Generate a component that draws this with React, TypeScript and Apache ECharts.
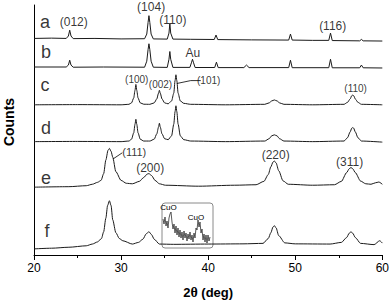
import React, { useEffect, useRef } from "react";
import * as echarts from "echarts";

// 2θ (deg) vs stacked counts (arbitrary offset units)
const traceA: number[][] = [[20,223.5],[22,223.8],[23.7,223.5],[23.95,226],[24.1,232],[24.25,226],[24.5,223.3],[27,223.5],[30,223],[32.7,223.2],[32.95,228],[33.1,240],[33.2,247],[33.3,240],[33.45,228],[33.7,223],[35.3,222.8],[35.5,229],[35.6,239],[35.7,229],[35.95,222.8],[38,222.6],[40.7,222.4],[40.9,227],[41.1,222.3],[45,222],[49.25,221.8],[49.45,228],[49.65,221.8],[52,221.5],[53.85,221.5],[54.05,229],[54.25,221.3],[57.4,221],[57.6,222.5],[57.8,221],[60,220.8]];
const traceB: number[][] = [[20,194],[23.7,194],[23.95,196],[24.1,201],[24.25,196],[24.5,193.8],[28,194],[32.7,193.8],[32.95,200],[33.1,212],[33.2,218],[33.3,212],[33.45,200],[33.7,193.8],[35.3,193.6],[35.5,202],[35.6,210],[35.7,202],[35.95,193.6],[37.9,193.6],[38.1,199],[38.2,202],[38.3,199],[38.5,193.5],[40.75,193.5],[40.95,199],[41.15,193.4],[44.1,193.4],[44.4,196],[44.7,193.4],[49.25,193.4],[49.45,201],[49.65,193.3],[53.85,193.3],[54.05,202],[54.25,193.2],[57.4,193.2],[57.6,196],[57.8,193.2],[60,193]];
const traceC: number[][] = [[20,155],[25,155.2],[30,155],[30.9,155.5],[31.2,157],[31.45,162],[31.6,170],[31.7,176],[31.8,170],[31.95,162],[32.2,157],[32.6,155.6],[33.3,155.5],[33.8,157],[34.1,161],[34.3,167],[34.4,170],[34.5,167],[34.7,161],[35.0,157],[35.4,156],[35.8,159],[36.05,167],[36.2,180],[36.3,186],[36.4,180],[36.55,167],[36.8,159],[37.2,156.5],[38,155.5],[42,155],[46.5,155.5],[47.0,157],[47.3,159],[47.6,160],[47.9,159],[48.2,157],[48.7,155.5],[52,155],[55.6,155.5],[56.0,157.5],[56.3,161],[56.5,164.5],[56.6,165],[56.7,164.5],[56.9,161],[57.2,157.5],[57.6,155.5],[60,155]];
const traceD: number[][] = [[20,117],[25,117.2],[30,117],[30.9,117.6],[31.2,119.5],[31.45,126],[31.6,135],[31.7,140],[31.8,135],[31.95,126],[32.2,119.5],[32.6,117.6],[33.3,117.6],[33.8,119.5],[34.1,125],[34.3,132],[34.4,136],[34.5,132],[34.7,125],[35.0,120],[35.4,119],[35.8,123],[36.05,135],[36.2,148],[36.3,154],[36.4,148],[36.55,135],[36.8,123],[37.2,119],[38,117.6],[42,117],[46.5,117.6],[47.0,120],[47.3,123],[47.6,124],[47.9,123],[48.2,120],[48.7,117.6],[52,117],[55.6,117.6],[56.0,121],[56.3,127],[56.5,131],[56.6,131.5],[56.7,131],[56.9,127],[57.2,121],[57.6,117.6],[60,116.5]];
const traceE: number[][] = [[20,70],[24,70.5],[26,71.5],[26.7,73],[27.3,75],[27.7,77],[28.0,84],[28.25,98],[28.5,108],[28.66,110],[28.85,107],[29.04,101],[29.4,86],[30.0,77],[30.6,74],[31.3,73.5],[32.1,76],[32.6,80],[33.0,83.5],[33.2,84],[33.5,82],[33.9,77],[34.4,73.5],[35.1,72],[38.9,71],[43,72],[45.5,72.5],[46.4,76],[46.9,83],[47.2,91],[47.45,96],[47.6,97],[47.8,95],[48.1,87],[48.6,76.5],[49.2,73],[52,72],[54.5,72.5],[55.3,76],[55.9,85],[56.2,89],[56.4,90.3],[56.6,89],[56.9,85],[57.5,76.3],[58.1,73.5],[58.7,73],[59.2,74.5],[59.6,75.3],[60,73]];
const traceF: number[][] = [[20,6.3],[22,7],[24,8],[26,9.5],[26.7,11.3],[27.3,13.5],[27.75,17],[28.0,24],[28.25,38],[28.45,51],[28.66,56],[28.85,51],[29.04,36.3],[29.4,23],[29.8,17],[30.2,14.7],[31.3,11.3],[32.0,13],[32.5,16.3],[32.9,22],[33.2,24],[33.5,21],[33.8,16.3],[34.4,11.3],[36,11],[40,11.3],[44,11.5],[46.3,12],[46.9,17],[47.2,23],[47.45,29],[47.6,30.3],[47.8,28],[48.1,20],[48.8,12.5],[50,11.5],[54,11.3],[55.3,13],[55.9,18],[56.2,22.5],[56.4,24],[56.6,22.5],[56.9,18],[57.5,12],[59.05,10.7],[59.7,14.7],[60,12.3]];

// inset (CuO region), counts along the zoomed scan
const insetCounts: number[] = [26,21,28,19,24,17,27,31,33,23,16,21,12,19,10,17,8,15,7,13,5,14,7,12,4,11,6,13,5,10,3,12,7,17,15,25,18,23,12,16,5,11,3,10,2,10,4,8];

const xTicks = { min: 20, max: 60, interval: 10 };

const traceLetters: [string, number, number][] = [
  ["a", 21.25, 240], ["b", 21.37, 209], ["c", 21.25, 175], ["d", 21.37, 131], ["e", 21.37, 79], ["f", 21.48, 25],
];
const peakLabels: [string, number, number, number][] = [
  ["(012)", 24.56, 240, 12], ["(104)", 33.45, 256, 12], ["(110)", 35.95, 243, 12], ["(116)", 54.3, 236, 12], ["Au", 38.23, 208, 12],
  ["(100)", 31.8, 181, 10], ["(002)", 34.53, 175.5, 10], ["(101)", 40.06, 180, 10], ["(110)", 56.93, 172, 10],
  ["(111)", 31.51, 106, 11], ["(200)", 33.34, 90, 12], ["(220)", 47.75, 103.5, 12], ["(311)", 56.24, 95.5, 12],
];
const leader101: number[][] = [[36.41, 177], [38.0, 180], [39.15, 180]];
const leader111: number[][] = [[29.06, 99], [30.14, 105.5]];

const FONT = "Arial, 'Liberation Sans', sans-serif";

export default function App() {
  const ref = useRef<HTMLDivElement>(null);
  useEffect(() => {
    const chart = echarts.init(ref.current!, null, { renderer: "svg" });
    const lineStyle = { color: "#1a1a1a", width: 1 };
    const traces = [traceA, traceB, traceC, traceD, traceE, traceF].map((d, i) => ({
      type: "line",
      data: d,
      showSymbol: false,
      smooth: i < 2 ? false : 0.25,
      smoothMonotone: "x",
      lineStyle,
      silent: true,
      xAxisIndex: 0,
      yAxisIndex: 0,
    }));
    const labelData = [
      ...traceLetters.map(([t, x, y]) => ({ value: [x, y], name: t, label: { fontSize: 18 } })),
      ...peakLabels.map(([t, x, y, s]) => ({ value: [x, y], name: t, label: { fontSize: s } })),
    ];
    chart.setOption({
      animation: false,
      textStyle: { fontFamily: FONT },
      grid: [
        { left: 34, right: 7, top: 5, bottom: 41 },
        { left: 163, top: 205, width: 47, height: 40 },
      ],
      xAxis: [
        {
          type: "value",
          gridIndex: 0,
          min: xTicks.min,
          max: xTicks.max,
          interval: xTicks.interval,
          axisLine: { show: true, onZero: false, lineStyle: { color: "#000", width: 1 } },
          axisTick: { show: true, length: 5, lineStyle: { color: "#000" } },
          minorTick: { show: true, splitNumber: 2, length: 3, lineStyle: { color: "#000" } },
          splitLine: { show: false },
          axisLabel: { color: "#000", fontSize: 12, margin: 7, fontFamily: FONT },
          name: "{b|2}{t|θ}{b| (deg)}",
          nameLocation: "middle",
          nameGap: 30,
          nameTextStyle: {
            rich: {
              b: { fontSize: 13, fontWeight: "bold", color: "#000", fontFamily: FONT },
              t: { fontSize: 14, fontWeight: "bold", color: "#000", fontFamily: "'Liberation Serif', 'Times New Roman', serif" },
            },
          },
        },
        { type: "category", gridIndex: 1, show: false, boundaryGap: false, data: insetCounts.map((_, i) => String(i)) },
      ],
      yAxis: [
        {
          type: "value",
          gridIndex: 0,
          min: 0,
          max: 258,
          axisLine: { show: true, onZero: false, lineStyle: { color: "#000", width: 1 } },
          axisTick: { show: false },
          axisLabel: { show: false },
          splitLine: { show: false },
        },
        { type: "value", gridIndex: 1, show: false, min: 0, max: 40 },
      ],
      series: [
        ...traces,
        {
          type: "line",
          data: leader101,
          showSymbol: false,
          lineStyle: { color: "#000", width: 0.8 },
          silent: true,
        },
        {
          type: "line",
          data: leader111,
          showSymbol: false,
          lineStyle: { color: "#000", width: 0.8 },
          silent: true,
        },
        {
          type: "scatter",
          data: labelData,
          symbolSize: 0,
          silent: true,
          label: {
            show: true,
            position: [0, 0],
            align: "center",
            verticalAlign: "middle",
            formatter: (p: any) => p.name,
            color: "#000",
            textBorderWidth: 0,
            fontFamily: FONT,
          },
        },
        {
          type: "line",
          xAxisIndex: 1,
          yAxisIndex: 1,
          data: insetCounts,
          showSymbol: false,
          lineStyle: { color: "#2e2e2e", width: 0.8 },
          silent: true,
        },
      ],
      graphic: [
        {
          type: "rect",
          shape: { x: 162, y: 203, width: 51, height: 45, r: 3 },
          style: { fill: "none", stroke: "#8a8a8a", lineWidth: 1 },
          silent: true,
        },
        { type: "text", x: 168.5, y: 207.5, style: { text: "CuO", font: `8px ${FONT}`, fill: "#000", align: "center", verticalAlign: "middle" } },
        { type: "text", x: 196, y: 217.5, style: { text: "CuO", font: `8px ${FONT}`, fill: "#000", align: "center", verticalAlign: "middle" } },
        {
          type: "text",
          x: 9,
          y: 122,
          rotation: Math.PI / 2,
          style: { text: "Counts", font: `bold 14px ${FONT}`, fill: "#000", align: "center", verticalAlign: "middle" },
        },
      ],
    });
    return () => chart.dispose();
  }, []);
  return <div ref={ref} style={{ width: 392, height: 304, position: "absolute", left: 0, top: 0 }} />;
}
